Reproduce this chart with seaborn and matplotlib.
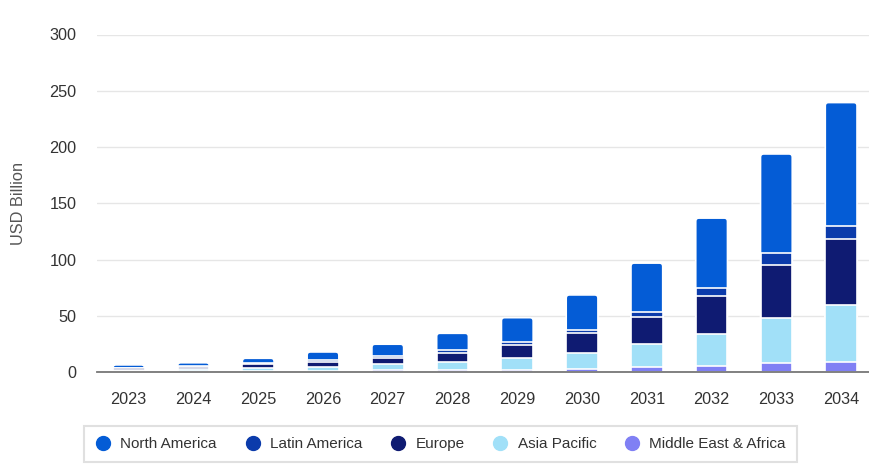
import matplotlib
matplotlib.use("Agg")
import matplotlib.pyplot as plt
from matplotlib.patches import FancyBboxPatch
import seaborn as sns
import pandas as pd
import numpy as np

years = ["2023", "2024", "2025", "2026", "2027", "2028", "2029", "2030", "2031", "2032", "2033", "2034"]
north_america = [2.4, 2.8, 4.5, 7.4, 10.5, 14.8, 21.9, 30.8, 43.4, 61.7, 88.1, 109.5]
latin_america = [0.6, 0.8, 0.8, 1.5, 2.0, 2.4, 2.4, 3.3, 4.4, 7.2, 10.2, 11.6]
europe = [1.5, 2.0, 3.1, 4.2, 5.1, 8.0, 11.3, 17.2, 23.8, 33.8, 47.7, 58.8]
asia_pacific = [1.2, 1.8, 2.8, 3.5, 5.6, 7.4, 10.7, 14.8, 21.0, 28.8, 40.1, 50.7]
middle_east_africa = [0.6, 0.8, 1.0, 1.2, 1.5, 1.8, 2.0, 2.4, 4.2, 5.3, 7.7, 8.9]

series = [
    ("North America", north_america, "#045cd6"),
    ("Latin America", latin_america, "#0b3bab"),
    ("Europe", europe, "#0f1b72"),
    ("Asia Pacific", asia_pacific, "#a1e0f8"),
    ("Middle East & Africa", middle_east_africa, "#8080f4"),
]

sns.set_style("white")
plt.rcParams["font.family"] = ["Liberation Sans", "DejaVu Sans"]

W, H = 869, 476
fig = plt.figure(figsize=(W / 100, H / 100), dpi=100)
ax_left, ax_right, ax_bottom, ax_top = 96.7, 869, 372, 34.5
ax = fig.add_axes([ax_left / W, (H - ax_bottom) / H,
                   (ax_right - ax_left) / W, (ax_bottom - ax_top) / H])

ax.set_ylim(0, 300)
ax.set_xlim(-0.494, 11.43)

# stacked via cumulative sums drawn from the top layer down
df = pd.DataFrame({name: vals for name, vals, _ in series}, index=years)
names = [s[0] for s in series]
for i, (name, vals, color) in enumerate(series):
    cum = df[names[i:]].sum(axis=1)
    n_before = len(ax.patches)
    sns.barplot(x=years, y=cum.values, color=color, width=0.49,
                edgecolor="white", linewidth=1.2, ax=ax, saturation=1, zorder=3)
    if i == 0:
        # round the top corners of the full-height bars
        px_x = (ax_right - ax_left) / (11.43 + 0.494)
        px_y = (ax_bottom - ax_top) / 300.0
        aspect = px_x / px_y
        for p in list(ax.patches[n_before:]):
            x, y0 = p.get_x(), p.get_y()
            w, h = p.get_width(), p.get_height()
            fb = FancyBboxPatch((x, y0), w, h,
                                boxstyle="round,pad=0,rounding_size=0.05",
                                mutation_aspect=aspect,
                                facecolor=color, edgecolor="white",
                                linewidth=1.2, zorder=3)
            p.remove()
            ax.add_patch(fb)

ax.set_ylim(0, 300)
ax.set_xlim(-0.494, 11.43)
ax.set_yticks([0, 50, 100, 150, 200, 250, 300])
ax.yaxis.grid(True, color="#e6e6e6", linewidth=1, zorder=0)
ax.set_axisbelow(True)
for s in ["top", "right", "left"]:
    ax.spines[s].set_visible(False)
ax.spines["bottom"].set_color("#777777")
ax.spines["bottom"].set_linewidth(1.3)
ax.spines["bottom"].set_zorder(5)
ax.tick_params(axis="both", length=0, labelsize=11.7, labelcolor="#333333")
ax.tick_params(axis="x", pad=14.4)
ax.tick_params(axis="y", pad=14.4)
ax.set_ylabel("USD Billion", fontsize=11.8, color="#555555", labelpad=17)
ax.set_xlabel("")

handles = [plt.Line2D([], [], marker="o", linestyle="", markersize=10,
                      markerfacecolor=c, markeredgecolor=c) for _, _, c in series]
leg = fig.legend(handles, names, loc="center", bbox_to_anchor=(440.6 / W, (H - 444) / H),
                 ncol=5, frameon=True, fontsize=11, handlelength=1.0,
                 handletextpad=0.64, columnspacing=1.83, borderpad=0.75,
                 fancybox=False)
leg.get_frame().set_edgecolor("#d9d9d9")
leg.get_frame().set_linewidth(1.5)
for t in leg.get_texts():
    t.set_color("#333333")

fig.savefig("out.png", dpi=100)
